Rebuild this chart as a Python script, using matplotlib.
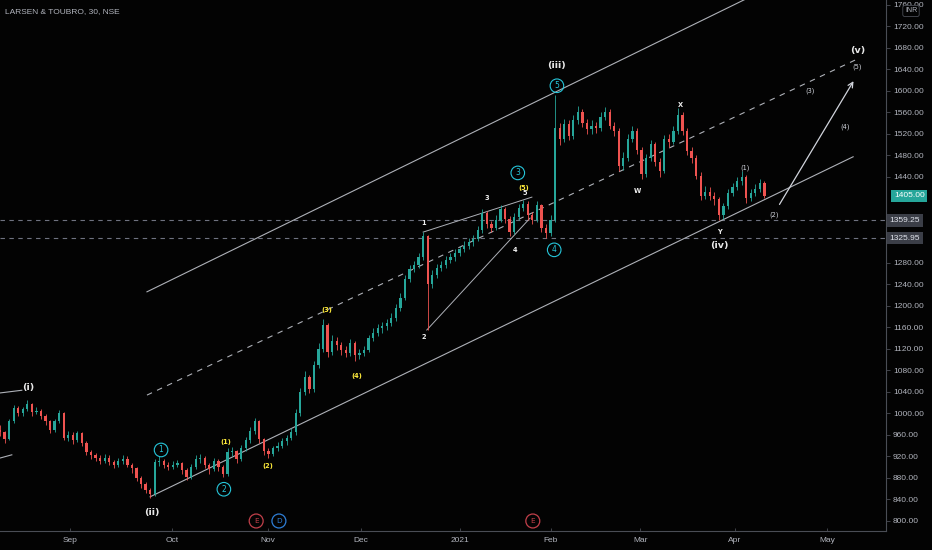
import numpy as np
import matplotlib
matplotlib.use('Agg')
import matplotlib.pyplot as plt

plt.rcParams['font.family'] = ['DejaVu Sans']

# daily bars (index = trading day from left edge)
closes = [965, 952, 985, 1010, 1000, 1008, 1018, 1002, 1005, 995,
          985, 970, 985, 1000, 955, 960, 950, 963, 945, 928,
          922, 918, 912, 918, 910, 905, 912, 916, 905, 898,
          880, 868, 858, 850, 910, 912, 905, 900, 905, 907,
          895, 882, 900, 915, 918, 905, 896, 912, 900, 888,
          928, 930, 915, 935, 950, 968, 985, 952, 930, 925,
          935, 940, 948, 955, 965, 1000, 1040, 1068, 1045, 1090,
          1120, 1165, 1115, 1135, 1128, 1118, 1112, 1130, 1108, 1112,
          1118, 1140, 1150, 1158, 1162, 1168, 1178, 1195, 1215, 1250,
          1268, 1275, 1290, 1330, 1240, 1258, 1270, 1275, 1285, 1290,
          1298, 1305, 1312, 1318, 1325, 1340, 1372, 1352, 1345, 1360,
          1380, 1362, 1338, 1365, 1382, 1390, 1368, 1360, 1388, 1345,
          1335, 1360, 1530, 1510, 1538, 1515, 1545, 1560, 1540, 1528,
          1535, 1530, 1550, 1560, 1535, 1525, 1460, 1475, 1510, 1525,
          1490, 1445, 1475, 1500, 1468, 1450, 1510, 1505, 1525, 1555,
          1525, 1488, 1475, 1442, 1405, 1412, 1405, 1398, 1368, 1385,
          1410, 1420, 1432, 1440, 1400, 1410, 1418, 1428, 1405]
highs = [978, 968, 990, 1015, 1014, 1012, 1024, 1020, 1011, 1008,
         998, 988, 990, 1006, 1002, 968, 965, 968, 966, 948,
         932, 926, 922, 924, 922, 914, 918, 922, 920, 908,
         900, 884, 872, 862, 916, 920, 916, 910, 912, 914,
         910, 898, 906, 922, 924, 920, 908, 918, 915, 904,
         935, 938, 932, 942, 956, 975, 992, 988, 955, 936,
         940, 946, 954, 960, 972, 1008, 1048, 1078, 1072, 1098,
         1130, 1175, 1168, 1145, 1142, 1132, 1125, 1138, 1134, 1120,
         1126, 1146, 1158, 1166, 1170, 1176, 1186, 1204, 1224, 1258,
         1276, 1284, 1298, 1338, 1332, 1266, 1278, 1284, 1292, 1298,
         1306, 1312, 1320, 1326, 1332, 1348, 1380, 1376, 1358, 1368,
         1388, 1384, 1366, 1372, 1390, 1396, 1394, 1374, 1394, 1390,
         1352, 1368, 1592, 1540, 1548, 1545, 1555, 1572, 1566, 1548,
         1545, 1542, 1560, 1570, 1565, 1542, 1530, 1485, 1520, 1535,
         1530, 1495, 1482, 1508, 1505, 1474, 1518, 1520, 1535, 1568,
         1560, 1530, 1495, 1480, 1448, 1422, 1420, 1412, 1402, 1392,
         1418, 1428, 1440, 1450, 1444, 1418, 1426, 1436, 1432]
lows = [958, 945, 950, 982, 995, 996, 1004, 996, 998, 990,
        978, 964, 966, 982, 950, 948, 944, 946, 940, 922,
        915, 912, 906, 908, 904, 898, 900, 906, 900, 890,
        874, 862, 852, 843, 846, 902, 898, 894, 896, 900,
        888, 876, 878, 896, 908, 898, 888, 892, 892, 882,
        884, 920, 908, 912, 930, 945, 962, 945, 922, 918,
        920, 930, 935, 942, 950, 960, 996, 1035, 1038, 1040,
        1085, 1115, 1105, 1108, 1118, 1108, 1104, 1106, 1098, 1102,
        1106, 1114, 1135, 1144, 1150, 1155, 1162, 1172, 1190, 1210,
        1244, 1262, 1270, 1285, 1155, 1234, 1252, 1264, 1270, 1280,
        1284, 1292, 1300, 1306, 1312, 1320, 1336, 1344, 1338, 1340,
        1355, 1354, 1330, 1334, 1360, 1376, 1360, 1352, 1356, 1338,
        1326, 1330, 1356, 1498, 1505, 1508, 1510, 1538, 1532, 1520,
        1520, 1522, 1525, 1545, 1528, 1515, 1450, 1452, 1470, 1505,
        1482, 1436, 1440, 1470, 1460, 1440, 1446, 1496, 1500, 1520,
        1518, 1480, 1466, 1435, 1396, 1398, 1396, 1388, 1360, 1362,
        1380, 1404, 1415, 1425, 1392, 1394, 1404, 1412, 1400]
first_open = 970

month_labels = ['Sep', 'Oct', 'Nov', 'Dec', '2021', 'Feb', 'Mar', 'Apr', 'May']
month_pos = [15.4, 37.8, 58.9, 79.3, 101.1, 121.1, 140.7, 161.5, 181.8]
# grid prices; the ones hidden behind the price tags are left out
price_ticks = [800, 840, 880, 920, 960, 1000, 1040, 1080, 1120, 1160, 1200,
               1240, 1280, 1440, 1480, 1520, 1560, 1600, 1640, 1680, 1720, 1760]
last_price = 1405.00
levels = [1359.25, 1325.95]

# drawn trendlines, (day, price) pairs
upper_channel = [(32.3, 1226), (167.0, 1783)]
mid_channel = [(32.3, 1034), (189.0, 1661)]
lower_channel = [(33.0, 845), (187.5, 1477)]
stub_a = [(0, 1038), (4.8, 1043)]
stub_b = [(0, 917), (2.6, 923)]
line_1_5 = [(93.0, 1337), (116.9, 1402)]
line_2_4 = [(93.8, 1155), (116.5, 1363)]
arrow_pts = [(171.0, 1384), (187.9, 1622)]

wave_big = [('(i)', 6.2, 1049), ('(ii)', 33.4, 815), ('(iii)', 122.2, 1646),
            ('(iv)', 158.2, 1313), ('(v)', 188.6, 1675)]
wave_cyan = [('1', 35.4, 932), ('2', 49.2, 859), ('3', 113.8, 1447),
             ('4', 121.8, 1304), ('5', 122.4, 1609)]
wave_yellow = [('(1)', 49.7, 947), ('(2)', 58.9, 902), ('(3)', 71.9, 1192),
               ('(4)', 78.5, 1070), ('(5)', 115.2, 1419)]
wave_white = [('1', 93.2, 1354), ('2', 93.2, 1142), ('3', 107.0, 1400),
              ('4', 113.2, 1304), ('5', 115.4, 1410),
              ('W', 140.2, 1413), ('X', 149.5, 1573), ('Y', 158.2, 1337)]
wave_grey = [('(1)', 163.7, 1456), ('(2)', 170.1, 1369), ('(3)', 178.0, 1599),
             ('(4)', 185.7, 1532), ('(5)', 188.4, 1644)]
events = [('E', 56.3, 800, '#c2404a'), ('D', 61.3, 800, '#2f7fd8'),
          ('E', 117.1, 800, '#c2404a')]

BG = '#030303'
UP = '#26a69a'
DOWN = '#ef5350'
TXT = '#b2b5be'
LINE = '#aeb1b8'

fig = plt.figure(figsize=(9.32, 5.5), dpi=100, facecolor=BG)
ax = fig.add_axes([0, 19/550, 886/932, 531/550], facecolor=BG)
ax.set_xlim(0, 886/4.55)
ax.set_ylim(781.4, 1768.4)

# candles
c = np.array(closes, dtype=float)
o = np.concatenate([[first_open], c[:-1]])
h = np.array(highs, dtype=float)
l = np.array(lows, dtype=float)
idx = np.arange(len(c))
cols = np.where(c >= o, UP, DOWN)
ax.vlines(idx, l, h, colors=cols, lw=0.6, zorder=3)
body = np.maximum(np.abs(c - o), 2)
ax.bar(idx, body, bottom=np.minimum(o, c), width=0.5, color=cols, lw=0, zorder=4)

# horizontal levels
for lv in levels:
    ax.axhline(lv, color='#6f7280', lw=0.8, ls=(0, (4, 4)), zorder=2)

def seg(pts, **kw):
    ax.plot([pts[0][0], pts[1][0]], [pts[0][1], pts[1][1]], **kw)

seg(upper_channel, color=LINE, lw=0.8, zorder=2)
seg(mid_channel, color=LINE, lw=0.8, ls=(0, (5, 5)), zorder=2)
seg(lower_channel, color=LINE, lw=0.8, zorder=2)
seg(stub_a, color=LINE, lw=0.8, zorder=2)
seg(stub_b, color=LINE, lw=0.8, zorder=2)
seg(line_1_5, color=LINE, lw=0.7, zorder=2)
seg(line_2_4, color=LINE, lw=0.7, zorder=2)
ax.annotate('', xy=arrow_pts[1], xytext=arrow_pts[0],
            arrowprops=dict(arrowstyle='->', color='#d1d4dc', lw=0.9,
                            mutation_scale=9), zorder=5)

# wave labels
for s, x, y in wave_big:
    ax.text(x, y, s, color='#e8e8e8', fontsize=6.8, fontweight='bold',
            ha='center', va='center', zorder=6)
for s, x, y in wave_cyan:
    ax.text(x, y, s, color='#26c6da', fontsize=5.5, ha='center', va='center',
            zorder=6, bbox=dict(boxstyle='circle,pad=0.3', fc='none',
                                ec='#26c6da', lw=0.8))
for s, x, y in wave_yellow:
    ax.text(x, y, s, color='#ffeb3b', fontsize=4.8, fontweight='bold',
            ha='center', va='center', zorder=6)
for s, x, y in wave_white:
    ax.text(x, y, s, color='#f0f0f0', fontsize=4.8, fontweight='bold',
            ha='center', va='center', zorder=6)
for s, x, y in wave_grey:
    ax.text(x, y, s, color='#d1d4dc', fontsize=4.8,
            ha='center', va='center', zorder=6)
for s, x, y, col in events:
    ax.text(x, y, s, color=col, fontsize=5.2, ha='center', va='center',
            zorder=6, bbox=dict(boxstyle='circle,pad=0.55', fc='none',
                                ec=col, lw=0.9))

# title
ax.text(0.006, 0.978, 'LARSEN & TOUBRO, 30, NSE', transform=ax.transAxes,
        color=TXT, fontsize=6, family='Liberation Sans', ha='left', va='center')

# axes styling
for sp in ['top', 'left']:
    ax.spines[sp].set_visible(False)
for sp in ['right', 'bottom']:
    ax.spines[sp].set_color('#4a4d55')
    ax.spines[sp].set_linewidth(0.8)
ax.yaxis.tick_right()
ax.set_yticks(price_ticks)
ax.set_yticklabels(['%.2f' % p for p in price_ticks])
ax.tick_params(axis='y', colors='#4a4d55', labelcolor=TXT, labelsize=6,
               length=3, width=0.6, pad=2)
ax.set_xticks(month_pos)
ax.set_xticklabels(month_labels)
ax.tick_params(axis='x', colors='#4a4d55', labelcolor=TXT, labelsize=6,
               length=2, width=0.6, pad=4, direction='in')
for t in ax.get_xticklabels() + ax.get_yticklabels():
    t.set_family('Liberation Sans')

# price tags
ax.text(1.009, last_price, '%.2f' % last_price, transform=ax.get_yaxis_transform(),
        color='white', fontsize=6, family='Liberation Sans', ha='left', va='center',
        zorder=10, clip_on=False,
        bbox=dict(boxstyle='square,pad=0.3', fc=UP, ec='none'))
for lv in levels:
    ax.text(1.004, lv, '%.2f' % lv, transform=ax.get_yaxis_transform(),
            color='#e0e3eb', fontsize=6, family='Liberation Sans', ha='left',
            va='center', zorder=10, clip_on=False,
            bbox=dict(boxstyle='square,pad=0.35', fc='#3b3e47', ec='none'))

fig.text(911/932, 1 - 11/550, 'INR', color=TXT, fontsize=5, family='Liberation Sans',
         ha='center', va='center', zorder=20,
         bbox=dict(boxstyle='round,pad=0.3', fc=BG, ec='#4a4d55', lw=0.6))

fig.savefig('out.png', dpi=100, facecolor=BG)
